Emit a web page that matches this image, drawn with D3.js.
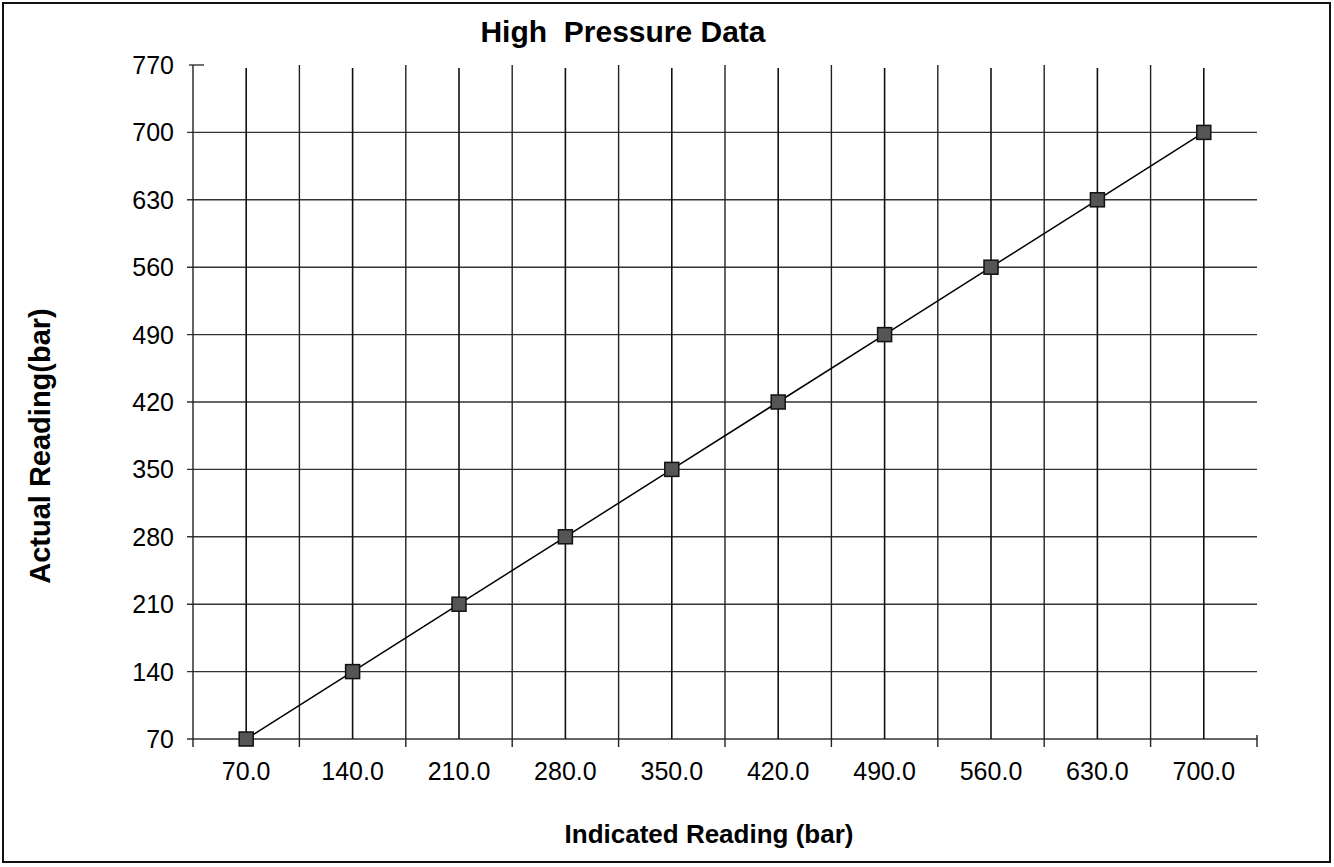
<!DOCTYPE html>
<html>
<head>
<meta charset="utf-8">
<script src="https://cdn.jsdelivr.net/npm/d3@7"></script>
<style>
  html, body { margin: 0; padding: 0; background: #fff; }
  svg { display: block; }
  text { font-family: Arial, "Liberation Sans", sans-serif; fill: #000; white-space: pre; }
</style>
</head>
<body>
<svg id="chart" width="1334" height="867"></svg>
<script>
// indicated reading (bar) -> categories on x axis
var categories = [70, 140, 210, 280, 350, 420, 490, 560, 630, 700];
// actual reading (bar)
var actualValues = [70, 140, 210, 280, 350, 420, 490, 560, 630, 700];
var yTicks = [70, 140, 210, 280, 350, 420, 490, 560, 630, 700, 770];

var title = "High  Pressure Data",
    xLabel = "Indicated Reading (bar)",
    yLabel = "Actual Reading(bar)";

var plotLeft = 193, plotRight = 1257,
    plotTop = 65, plotBottom = 739;

var svg = d3.select("#chart");

// outer chart border
svg.append("rect")
    .attr("x", 3).attr("y", 3)
    .attr("width", 1327).attr("height", 859)
    .attr("fill", "none")
    .attr("stroke", "#111")
    .attr("stroke-width", 2);

var x = d3.scaleBand()
    .domain(categories)
    .range([plotLeft, plotRight]);

var y = d3.scaleLinear()
    .domain([70, 770])
    .range([plotBottom, plotTop]);

var grid = svg.append("g");

// horizontal gridlines (value axis major gridlines)
grid.selectAll("line.h")
    .data(yTicks.filter(function (d) { return d < 770; }))
    .enter().append("line")
    .attr("class", "h")
    .attr("x1", plotLeft - 6).attr("x2", plotRight)
    .attr("y1", function (d) { return y(d); })
    .attr("y2", function (d) { return y(d); })
    .attr("stroke", "#333")
    .attr("stroke-width", 1.4);

// top tick of value axis
grid.append("line")
    .attr("x1", plotLeft - 4).attr("x2", plotLeft + 11)
    .attr("y1", y(770)).attr("y2", y(770))
    .attr("stroke", "#333")
    .attr("stroke-width", 1.4);

// vertical gridlines at category boundaries (with ticks below axis)
var bounds = categories.map(function (d) { return x(d); }).concat([x(categories[categories.length - 1]) + x.bandwidth()]);
grid.selectAll("line.vb")
    .data(bounds)
    .enter().append("line")
    .attr("class", "vb")
    .attr("x1", function (d) { return d; })
    .attr("x2", function (d) { return d; })
    .attr("y1", function (d, i) { return i === bounds.length - 1 ? plotBottom - 4 : plotTop; })
    .attr("y2", plotBottom + 8)
    .attr("stroke", "#222")
    .attr("stroke-width", 1.4);

// vertical gridlines at category centres
grid.selectAll("line.vc")
    .data(categories)
    .enter().append("line")
    .attr("class", "vc")
    .attr("x1", function (d) { return x(d) + x.bandwidth() / 2; })
    .attr("x2", function (d) { return x(d) + x.bandwidth() / 2; })
    .attr("y1", plotTop + 3)
    .attr("y2", plotBottom)
    .attr("stroke", "#111")
    .attr("stroke-width", 1.6);

// y tick labels
svg.append("g").selectAll("text")
    .data(yTicks)
    .enter().append("text")
    .attr("x", 174)
    .attr("y", function (d) { return y(d) + 9; })
    .attr("text-anchor", "end")
    .attr("font-size", 25)
    .text(function (d) { return d; });

// x tick labels
svg.append("g").selectAll("text")
    .data(categories)
    .enter().append("text")
    .attr("x", function (d) { return x(d) + x.bandwidth() / 2; })
    .attr("y", 780)
    .attr("text-anchor", "middle")
    .attr("font-size", 25)
    .text(function (d) { return d3.format(".1f")(d); });

// data line
var line = d3.line()
    .x(function (d, i) { return x(categories[i]) + x.bandwidth() / 2; })
    .y(function (d) { return y(d); });

svg.append("path")
    .datum(actualValues)
    .attr("d", line)
    .attr("fill", "none")
    .attr("stroke", "#000")
    .attr("stroke-width", 1.5);

// square markers
svg.append("g").selectAll("rect")
    .data(actualValues)
    .enter().append("rect")
    .attr("x", function (d, i) { return x(categories[i]) + x.bandwidth() / 2 - 7; })
    .attr("y", function (d) { return y(d) - 7; })
    .attr("width", 14).attr("height", 14)
    .attr("fill", "#555")
    .attr("stroke", "#111")
    .attr("stroke-width", 1.5);

// titles
svg.append("text")
    .attr("x", 623).attr("y", 42)
    .attr("text-anchor", "middle")
    .attr("font-size", 30)
    .attr("font-weight", "bold")
    .text(title);

svg.append("text")
    .attr("x", 709).attr("y", 843)
    .attr("text-anchor", "middle")
    .attr("font-size", 26)
    .attr("font-weight", "bold")
    .text(xLabel);

svg.append("text")
    .attr("transform", "translate(50,446) rotate(-90)")
    .attr("text-anchor", "middle")
    .attr("font-size", 29)
    .attr("font-weight", "bold")
    .text(yLabel);
</script>
</body>
</html>
